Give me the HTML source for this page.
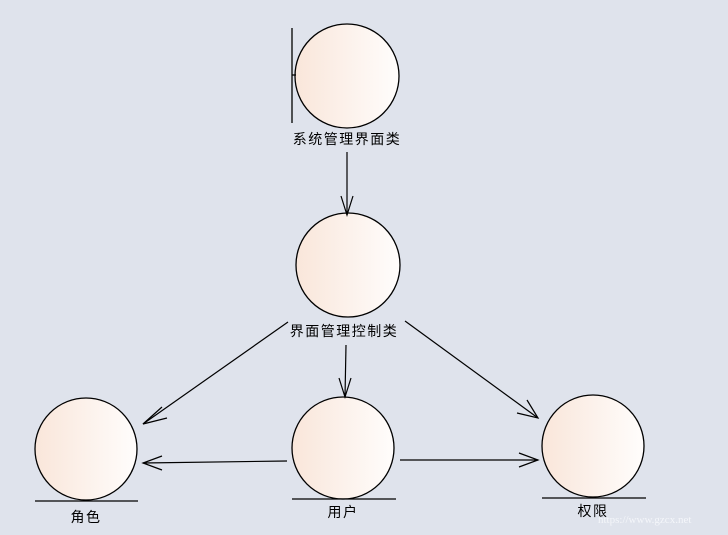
<!DOCTYPE html>
<html><head><meta charset="utf-8"><style>
html,body{margin:0;padding:0;background:#dfe3ec;}
svg{display:block}
text{font-family:"Liberation Sans","Noto Sans CJK SC",sans-serif;font-size:14px;fill:#000;letter-spacing:1.5px;}
</style></head><body>
<svg width="728" height="535" viewBox="0 0 728 535" xmlns="http://www.w3.org/2000/svg">
<defs>
<linearGradient id="g" x1="0" x2="1" y1="0" y2="0">
<stop offset="0" stop-color="#f9e6da"/><stop offset="1" stop-color="#fffdfc"/>
</linearGradient>
</defs>
<g stroke="#000" stroke-width="1.3">
<circle cx="347" cy="76" r="52" fill="url(#g)"/>
<line x1="292" y1="28" x2="292" y2="123"/>
<line x1="292" y1="75" x2="296" y2="75"/>
<circle cx="348" cy="265" r="52" fill="url(#g)"/>
<circle cx="86" cy="449" r="51" fill="url(#g)"/>
<line x1="35" y1="501" x2="138" y2="501"/>
<circle cx="343" cy="448" r="51" fill="url(#g)"/>
<line x1="292" y1="499" x2="396" y2="499"/>
<circle cx="593" cy="446" r="51" fill="url(#g)"/>
<line x1="542" y1="498" x2="646" y2="498"/>
</g>
<g stroke="#000" stroke-width="1.2" fill="none">
<line x1="347" y1="152" x2="347" y2="215"/><polyline points="341,196 347,215 353,196"/>
<line x1="288" y1="322" x2="143" y2="424"/><polyline points="162,407 143,424 167,418"/>
<line x1="346" y1="345" x2="345" y2="397"/><polyline points="339,378 345,397 351,378"/>
<line x1="405" y1="321" x2="538" y2="418"/><polyline points="527,400 538,418 517,413"/>
<line x1="287" y1="461" x2="143" y2="463"/><polyline points="162,456 143,463 162,470"/>
<line x1="400" y1="460" x2="538" y2="460"/><polyline points="519,453 538,460 519,467"/>
</g>
<text x="347" y="144" text-anchor="middle">系统管理界面类</text>
<text x="344" y="336" text-anchor="middle">界面管理控制类</text>
<text x="86" y="522" text-anchor="middle">角色</text>
<text x="343" y="517" text-anchor="middle">用户</text>
<text x="593" y="516" text-anchor="middle">权限</text>
<text x="598" y="523" style="font-size:11px;fill:#f4f6fa;font-family:'Liberation Serif',serif;letter-spacing:0">https://www.gzcx.net</text>
</svg>
</body></html>
